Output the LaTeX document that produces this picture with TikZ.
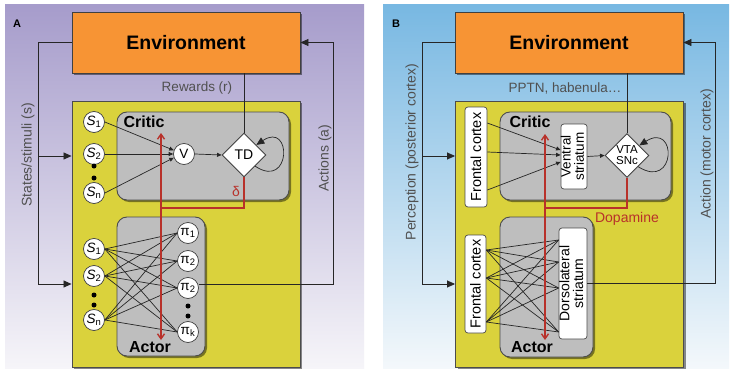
\documentclass[tikz,border=0pt]{standalone}
\usepackage{fontspec}
\setmainfont{Liberation Sans}
\usetikzlibrary{arrows.meta,shapes.geometric,shadows,calc}
\definecolor{envorange}{HTML}{F79434}
\definecolor{boxyellow}{HTML}{DAD23C}
\definecolor{critgrey}{HTML}{BEBEBE}
\definecolor{redline}{HTML}{B8312A}
\definecolor{txtgrey}{HTML}{505050}
\definecolor{lavtop}{HTML}{A69CCB}
\definecolor{lavmid}{HTML}{CCC7DF}
\definecolor{lavbot}{HTML}{F6F5F9}
\definecolor{skytop}{HTML}{78B8E2}
\definecolor{skymid}{HTML}{B7D9EE}
\definecolor{skybot}{HTML}{F4F8FB}
\newcommand\myfs[1]{\fontsize{#1}{#1}\selectfont}
\begin{document}
\begin{tikzpicture}[x=1pt,y=-1pt,
 conn/.style={draw=black!85,line width=0.7pt},
 inarrow/.style={-{Triangle[length=8pt,width=7pt]}},
 smallarrow/.style={-{Triangle[length=4.5pt,width=4pt]}},
 redln/.style={draw=redline,line width=1.4pt},
 redarrow/.style={redln,-{Straight Barb[length=5pt,width=7pt]}},
 shadowed/.style={drop shadow={shadow xshift=2pt,shadow yshift=-2pt,opacity=0.45,fill=black}},
 envbox/.style={draw=black!75,line width=0.9pt,fill=envorange,minimum width=228pt,minimum height=61pt,font=\myfs{19.5}\bfseries,shadowed},
 yelbox/.style={draw=black!70,line width=0.9pt,fill=boxyellow,minimum width=228pt,minimum height=266pt,shadowed},
 greybox/.style={draw=black!70,line width=0.9pt,fill=critgrey,rounded corners=10pt,shadowed},
 neuron/.style={circle,draw=black!75,line width=0.7pt,fill=white,minimum size=21pt,inner sep=0pt,font=\myfs{13.5}},
 blackdot/.style={circle,fill=black,minimum size=5pt,inner sep=0pt},
 diam/.style={diamond,draw=black!75,line width=0.9pt,fill=white,minimum width=44pt,minimum height=44pt,inner sep=0pt},
 wbox/.style={draw=black!70,line width=0.7pt,fill=white,rounded corners=3pt,inner sep=0pt},
 lbl/.style={text=txtgrey,font=\myfs{14}},
 boxtitle/.style={font=\myfs{16}\bfseries},
 panellbl/.style={font=\myfs{11}\bfseries},
]
\fill[white] (0,0) rectangle (731,369);
\useasboundingbox (0,0) rectangle (731,369);
% backgrounds
\shade[top color=lavtop,middle color=lavmid,bottom color=lavbot] (5,5) rectangle (364,369);
\shade[top color=skytop,middle color=skymid,bottom color=skybot] (383,5) rectangle (729,369);
\node[panellbl] (labA) at (17,24) {A};
\node[panellbl] (labB) at (396,24) {B};

% ================= Panel A =================
\node[envbox] (aEnv) at (186,42.5) {Environment};
\node[yelbox] (aY) at (186,234) {};
\node[greybox,minimum width=172pt,minimum height=88pt] (aCrit) at (203,156) {};
\node[greybox,minimum width=88pt,minimum height=139pt] (aAct) at (161,286.5) {};
\node[boxtitle] (aCritT) at (144,122) {Critic};
\node[boxtitle] (aActT) at (150,347) {Actor};
\node[lbl,font=\myfs{13.5}] (aRew) at (197,88) {Rewards (r)};

% critic units
\node[neuron] (aS1) at (94,122) {\textit{S}\textsubscript{1}};
\node[neuron] (aS2) at (94,154) {\textit{S}\textsubscript{2}};
\node[blackdot] (aD1) at (94,166) {};
\node[blackdot] (aD2) at (94,178) {};
\node[neuron] (aSn) at (94,193) {\textit{S}\textsubscript{n}};
\node[neuron] (aV) at (184,154) {V};
\node[diam,font=\myfs{14}] (aTD) at (244,155) {TD};
\draw[conn,smallarrow] (aS1.east) -- (aV.160);
\draw[conn,smallarrow] (aS2.east) -- (aV.180);
\draw[conn,smallarrow] (aSn.east) -- (aV.200);
\draw[conn,smallarrow] (aV.east) -- (aTD.west);
\draw[conn] (aTD.north |- aEnv.south) -- (aTD.north);
\coordinate (aLs) at ($(aTD.east)!0.5!(aTD.south)$);
\coordinate (aLe) at ($(aTD.east)!0.45!(aTD.north)$);
\draw[conn,inarrow] (aLs) .. controls +(36,24) and +(36,-24) .. (aLe);

% actor units
\node[neuron] (aA1) at (94,249) {\textit{S}\textsubscript{1}};
\node[neuron] (aA2) at (94,276) {\textit{S}\textsubscript{2}};
\node[blackdot] (aD3) at (94,295) {};
\node[blackdot] (aD4) at (94,305) {};
\node[neuron] (aAn) at (94,320) {\textit{S}\textsubscript{n}};
\node[neuron] (aP1) at (188,233) {π\textsubscript{1}};
\node[neuron] (aP2) at (188,261) {π\textsubscript{2}};
\node[neuron] (aP3) at (188,288) {π\textsubscript{2}};
\node[blackdot] (aD5) at (188,306) {};
\node[blackdot] (aD6) at (188,316) {};
\node[neuron] (aPk) at (188,332) {π\textsubscript{k}};
\foreach \s in {aA1,aA2,aAn}
  \foreach \p in {aP1,aP2,aP3,aPk}
    \draw[conn] (\s.east) -- (\p.west);

% loops
\coordinate (aLt) at (38,42.5);
\coordinate (aLm) at (38,156);
\coordinate (aLb) at (38,284);
\draw[conn] (aEnv.west) -- (aLt) -- (aLb);
\draw[conn,inarrow] (aLm) -- (aLm -| aY.west);
\draw[conn,inarrow] (aLb) -- (aLb -| aY.west);
\coordinate (aRb) at (333,284);
\coordinate (aRt) at (333,42.5);
\draw[conn,inarrow] ([yshift=4pt]aP3.east) -- (aRb) -- (aRt) -- (aEnv.east);
\node[lbl,rotate=90] (aStates) at (28,155) {States/stimuli (s)};
\node[lbl,rotate=90] (aActions) at (325,158) {Actions (a)};

% red
\coordinate (aJt) at (244,208);
\coordinate (aJ) at (161,208);
\coordinate (aUp) at (161,133);
\coordinate (aDn) at (161,340);
\draw[redln] (aTD.south) -- (aJt) -- (aJ);
\draw[redarrow] (aJ) -- (aUp);
\draw[redarrow] (aJ) -- (aDn);
\node[text=redline,font=\myfs{14}] (aDelta) at (236,191) {δ};

% ================= Panel B =================
\node[envbox] (bEnv) at (569,42.5) {Environment};
\node[yelbox] (bY) at (569.5,234) {};
\node[greybox,minimum width=171pt,minimum height=88pt] (bCrit) at (585.5,156) {};
\node[greybox,minimum width=93pt,minimum height=140pt] (bAct) at (546.5,287) {};
\node[boxtitle] (bCritT) at (530,122) {Critic};
\node[boxtitle] (bActT) at (532,347) {Actor};
\node[lbl,font=\myfs{13.5}] (bPPTN) at (565,88) {PPTN, habenula…};

\node[wbox,minimum width=22pt,minimum height=100pt,font=\myfs{14.5}] (bFC1) at (476,157) {\rotatebox{90}{Frontal cortex}};
\node[wbox,minimum width=26pt,minimum height=65pt,font=\fontsize{13.5}{11}\selectfont] (bVS) at (574,156.5) {\rotatebox{90}{\begin{tabular}{@{}c@{}}Ventral\\striatum\end{tabular}}};
\node[diam] (bVTA) at (627,155.5) {};
\node[font=\fontsize{11.5}{11}\selectfont,align=center] (bVTAt) at (bVTA) {VTA\\SNc};
\draw[conn,smallarrow] ([yshift=34pt]bFC1.east) -- ([yshift=6.5pt]bVS.west);
\draw[conn,smallarrow] ([yshift=5pt]bFC1.east) -- ([yshift=1.5pt]bVS.west);
\draw[conn,smallarrow] ([yshift=-33pt]bFC1.east) -- ([yshift=-5.5pt]bVS.west);
\draw[conn,smallarrow] (bVS.east) -- (bVTA.west);
\draw[conn] (bVTA.north |- bEnv.south) -- (bVTA.north);
\coordinate (bLs) at ($(bVTA.east)!0.5!(bVTA.south)$);
\coordinate (bLe) at ($(bVTA.east)!0.45!(bVTA.north)$);
\draw[conn,inarrow] (bLs) .. controls +(38,24) and +(38,-24) .. (bLe);

\node[wbox,minimum width=21pt,minimum height=98pt,font=\myfs{14.5}] (bFC2) at (475.5,284) {\rotatebox{90}{Frontal cortex}};
\node[wbox,minimum width=28pt,minimum height=111pt,font=\fontsize{14}{12}\selectfont] (bDLS) at (573,283.5) {\rotatebox{90}{\begin{tabular}{@{}c@{}}Dorsolateral\\striatum\end{tabular}}};
\foreach \a in {34,6,-38}
  \foreach \b in {43.5,21.5,-4.5,-48.5}
    \draw[conn] ([yshift=\a pt]bFC2.east) -- ([yshift=\b pt]bDLS.west);

\coordinate (bLt) at (422,42.5);
\coordinate (bLm) at (422,156);
\coordinate (bLb) at (422,284);
\draw[conn] (bEnv.west) -- (bLt) -- (bLb);
\draw[conn,inarrow] (bLm) -- (bLm -| bY.west);
\draw[conn,inarrow] (bLb) -- (bLb -| bY.west);
\coordinate (bRb) at (715,283.5);
\coordinate (bRt) at (715,42.5);
\draw[conn,inarrow] (bDLS.east) -- (bRb) -- (bRt) -- (bEnv.east);
\node[lbl,rotate=90] (bPerc) at (412,152) {Perception (posterior cortex)};
\node[lbl,rotate=90] (bAction) at (707,154) {Action (motor cortex)};

\coordinate (bJt) at (627,208);
\coordinate (bJ) at (545,208);
\coordinate (bUp) at (545,134);
\coordinate (bDn) at (545,340);
\draw[redln] (bVTA.south) -- (bJt) -- (bJ);
\draw[redarrow] (bJ) -- (bUp);
\draw[redarrow] (bJ) -- (bDn);
\node[text=redline,font=\myfs{14}] (bDop) at (627,219) {Dopamine};
\end{tikzpicture}
\end{document}
